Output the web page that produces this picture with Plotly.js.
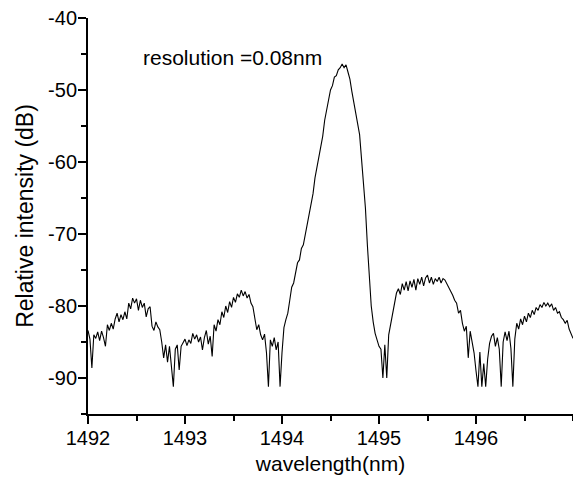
<!DOCTYPE html>
<html>
<head>
<meta charset="utf-8">
<script src="https://cdn.plot.ly/plotly-3.0.1.min.js"></script>
<style>html,body{margin:0;padding:0;background:#fff;}#chart{width:573px;height:481px;}</style>
</head>
<body>
<div id="chart"></div>
<script>
// wavelength (nm)
const wavelength = [
1492.00,1492.02,1492.04,1492.06,1492.08,1492.10,1492.12,1492.14,1492.16,1492.18,
1492.20,1492.22,1492.24,1492.26,1492.28,1492.30,1492.32,1492.34,1492.36,1492.38,
1492.40,1492.42,1492.44,1492.46,1492.48,1492.50,1492.52,1492.54,1492.56,1492.58,
1492.60,1492.62,1492.64,1492.66,1492.68,1492.70,1492.72,1492.74,1492.76,1492.78,
1492.80,1492.82,1492.84,1492.86,1492.88,1492.90,1492.92,1492.94,1492.96,1492.98,
1493.00,1493.02,1493.04,1493.06,1493.08,1493.10,1493.12,1493.14,1493.16,1493.18,
1493.20,1493.22,1493.24,1493.26,1493.28,1493.30,1493.32,1493.34,1493.36,1493.38,
1493.40,1493.42,1493.44,1493.46,1493.48,1493.50,1493.52,1493.54,1493.56,1493.58,
1493.60,1493.62,1493.64,1493.66,1493.68,1493.70,1493.72,1493.74,1493.76,1493.78,
1493.80,1493.82,1493.84,1493.86,1493.88,1493.90,1493.92,1493.94,1493.96,1493.98,
1494.00,1494.02,1494.04,1494.06,1494.08,1494.10,1494.12,1494.14,1494.16,1494.18,
1494.20,1494.22,1494.24,1494.26,1494.28,1494.30,1494.32,1494.34,1494.36,1494.38,
1494.40,1494.42,1494.44,1494.46,1494.48,1494.50,1494.52,1494.54,1494.56,1494.58,
1494.60,1494.62,1494.64,1494.66,1494.68,1494.70,1494.72,1494.74,1494.76,1494.78,
1494.80,1494.82,1494.84,1494.86,1494.88,1494.90,1494.92,1494.94,1494.96,1494.98,
1495.00,1495.02,1495.04,1495.06,1495.08,1495.10,1495.12,1495.14,1495.16,1495.18,
1495.20,1495.22,1495.24,1495.26,1495.28,1495.30,1495.32,1495.34,1495.36,1495.38,
1495.40,1495.42,1495.44,1495.46,1495.48,1495.50,1495.52,1495.54,1495.56,1495.58,
1495.60,1495.62,1495.64,1495.66,1495.68,1495.70,1495.72,1495.74,1495.76,1495.78,
1495.80,1495.82,1495.84,1495.86,1495.88,1495.90,1495.92,1495.94,1495.96,1495.98,
1496.00,1496.02,1496.04,1496.06,1496.08,1496.10,1496.12,1496.14,1496.16,1496.18,
1496.20,1496.22,1496.24,1496.26,1496.28,1496.30,1496.32,1496.34,1496.36,1496.38,
1496.40,1496.42,1496.44,1496.46,1496.48,1496.50,1496.52,1496.54,1496.56,1496.58,
1496.60,1496.62,1496.64,1496.66,1496.68,1496.70,1496.72,1496.74,1496.76,1496.78,
1496.80,1496.82,1496.84,1496.86,1496.88,1496.90,1496.92,1496.94,1496.96,1496.98,
1497.00
];
// relative intensity (dB)
const intensity = [
-83.4,-84.6,-88.6,-84.0,-84.5,-83.6,-84.8,-83.5,-84.4,-85.6,
-82.6,-83.4,-82.4,-83.2,-81.8,-81.0,-82.2,-81.2,-81.9,-80.8,
-81.8,-79.6,-80.4,-78.9,-79.6,-79.0,-80.6,-79.2,-80.2,-79.6,
-81.5,-80.4,-80.1,-82.8,-83.4,-82.2,-82.9,-83.3,-85.0,-87.2,
-85.4,-87.8,-85.6,-88.0,-91.2,-86.0,-85.4,-88.9,-85.6,-85.1,
-84.6,-85.5,-84.7,-85.2,-83.8,-84.6,-84.0,-85.0,-84.3,-86.1,
-84.4,-83.4,-85.3,-84.2,-87.0,-82.6,-83.5,-81.9,-82.6,-80.8,
-81.6,-80.0,-80.9,-79.4,-80.2,-78.8,-79.5,-78.3,-78.8,-77.8,
-78.6,-78.0,-78.9,-78.4,-79.6,-80.1,-81.8,-83.3,-82.6,-84.0,
-84.7,-83.9,-86.5,-91.2,-84.7,-85.6,-84.4,-86.1,-85.0,-91.2,
-86.5,-83.0,-81.9,-81.0,-79.2,-77.4,-76.8,-75.6,-74.0,-73.6,
-72.0,-71.5,-70.0,-69.0,-67.0,-65.6,-64.4,-62.2,-60.8,-59.4,
-57.6,-56.4,-54.2,-52.8,-51.6,-50.0,-49.4,-48.2,-48.0,-47.2,
-46.9,-46.4,-46.9,-46.5,-47.5,-48.5,-50.2,-51.8,-52.8,-54.8,
-56.2,-59.6,-62.8,-66.4,-71.5,-76.4,-80.0,-82.2,-83.8,-84.7,
-85.6,-86.0,-90.0,-85.4,-90.0,-84.0,-82.4,-81.0,-79.2,-78.2,
-77.6,-78.4,-76.9,-77.8,-76.6,-77.9,-76.5,-77.4,-76.3,-77.8,
-76.2,-77.0,-76.0,-77.2,-76.1,-75.7,-76.8,-76.0,-77.0,-76.2,
-76.6,-76.0,-76.8,-76.2,-76.4,-76.9,-77.3,-77.8,-78.5,-79.2,
-79.6,-81.0,-80.6,-82.4,-83.5,-82.8,-87.2,-83.5,-85.0,-86.5,
-89.0,-91.2,-86.4,-91.2,-88.0,-91.2,-87.4,-85.2,-84.2,-83.8,
-85.6,-84.4,-86.0,-91.2,-85.0,-83.6,-84.8,-83.5,-85.9,-91.2,
-84.6,-82.4,-83.2,-81.8,-82.6,-81.4,-82.2,-81.0,-81.6,-80.6,
-81.2,-80.2,-80.6,-79.8,-80.2,-79.5,-80.0,-79.6,-80.1,-79.7,
-80.6,-80.2,-81.0,-80.8,-81.6,-81.9,-82.4,-82.0,-83.2,-84.0,
-84.5
];
const xTickVals = [1492, 1493, 1494, 1495, 1496];
const xTickText = ["1492", "1493", "1494", "1495", "1496"];
const yTickVals = [-90, -80, -70, -60, -50, -40];
const yTickText = ["-90", "-80", "-70", "-60", "-50", "-40"];

const FONT = "Liberation Sans, Arial, sans-serif";

const trace = {
  x: wavelength, y: intensity, type: "scatter", mode: "lines",
  line: {color: "#000", width: 1.1}, hoverinfo: "skip"
};

const layout = {
  width: 573, height: 481,
  margin: {l: 88, r: 0, t: 18, b: 67},
  paper_bgcolor: "#fff", plot_bgcolor: "#fff",
  showlegend: false,
  font: {family: FONT, color: "#000"},
  xaxis: {
    range: [1492, 1497], tickmode: "array", tickvals: xTickVals, ticktext: xTickText,
    ticks: "outside", ticklen: 8, tickwidth: 2, tickcolor: "#000",
    showline: true, linecolor: "#000", linewidth: 2, mirror: false,
    showgrid: false, zeroline: false, ticklabelstandoff: -3,
    tickfont: {family: FONT, size: 20, color: "#000"},
    minor: {dtick: 0.5, tick0: 1492, ticks: "outside", ticklen: 5, tickwidth: 2, tickcolor: "#000", showgrid: false},
    title: {text: "wavelength(nm)", font: {family: FONT, size: 21, color: "#000"}, standoff: 8}
  },
  yaxis: {
    range: [-95, -40], tickmode: "array", tickvals: yTickVals, ticktext: yTickText,
    ticks: "outside", ticklen: 8, tickwidth: 2, tickcolor: "#000",
    showline: true, linecolor: "#000", linewidth: 2, mirror: false,
    showgrid: false, zeroline: false, ticklabelstandoff: -3,
    tickfont: {family: FONT, size: 20, color: "#000"},
    minor: {dtick: 5, tick0: -95, ticks: "outside", ticklen: 5, tickwidth: 2, tickcolor: "#000", showgrid: false},
    title: {text: "Relative intensity (dB)", font: {family: FONT, size: 23, color: "#000"}, standoff: 8}
  },
  annotations: [{
    text: "resolution =0.08nm", xref: "x", yref: "y", x: 1492.55, y: -45.5,
    xanchor: "left", yanchor: "middle", showarrow: false,
    font: {family: FONT, size: 21, color: "#000"}
  }]
};

Plotly.newPlot("chart", [trace], layout, {displayModeBar: false, staticPlot: true});
</script>
</body>
</html>
